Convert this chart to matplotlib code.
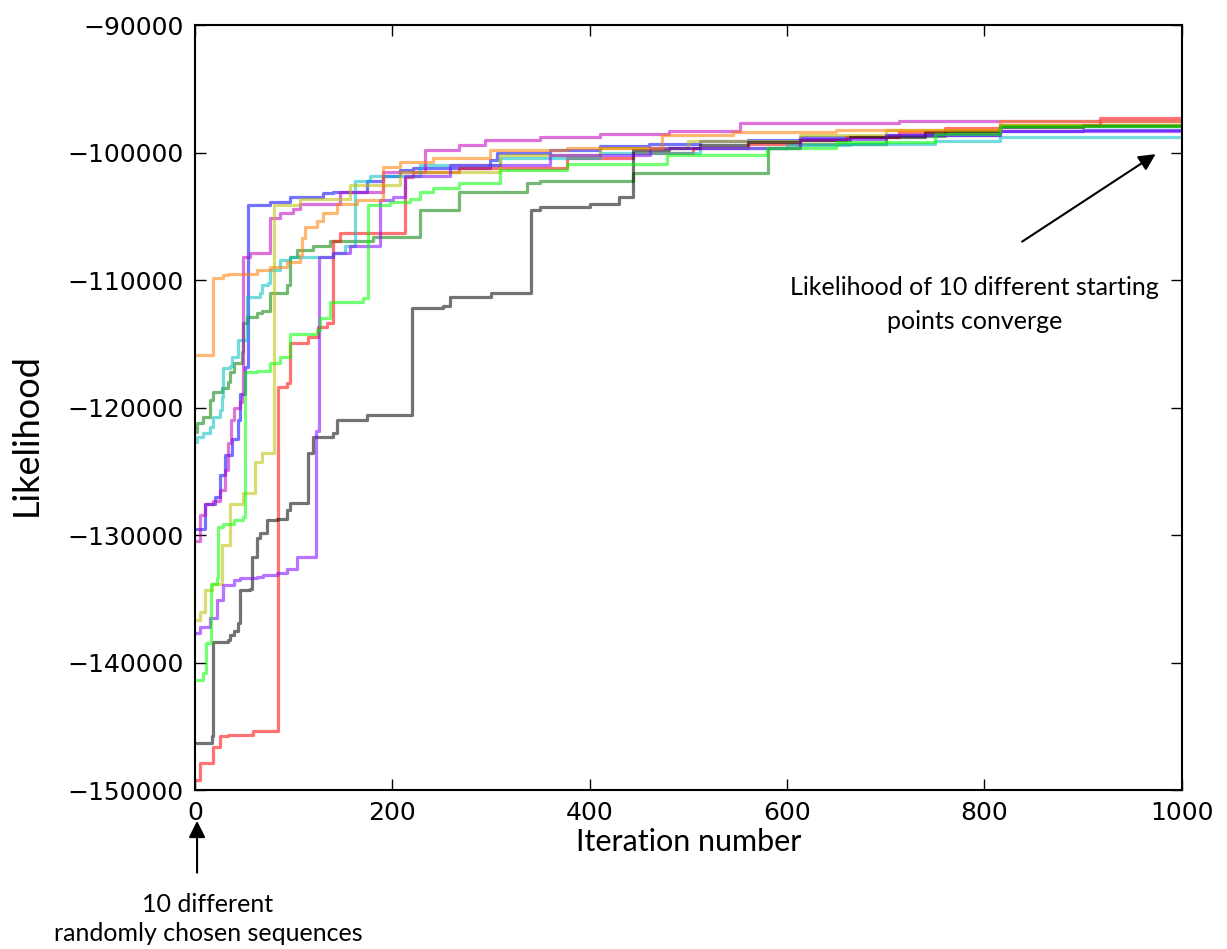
import matplotlib
matplotlib.use("Agg")
import matplotlib.pyplot as plt

# step curves of the likelihood for 10 random starting sequences (iteration, likelihood)
iter_blue = [0, 10, 20, 25, 30, 37, 43, 46, 51, 54, 76, 96, 130, 140, 174, 190, 208, 221, 299, 306, 360, 410, 460,
             512, 560, 613, 700, 816, 900]
like_blue = [-129500, -127600, -127000, -125300, -123700, -122500, -121000, -118900, -116800, -104100, -103900,
             -103500, -103200, -103100, -102200, -101800, -101400, -101200, -100600, -100000, -99800, -99500,
             -99300, -99100, -99000, -98800, -98600, -98300, -98200]

iter_green = [0, 2, 8, 15, 18, 27, 33, 35, 39, 48, 49, 53, 63, 68, 76, 93, 96, 103, 120, 137, 180, 228, 268,
              336, 350, 444, 581, 613, 700, 760, 816, 900]
like_green = [-121900, -121200, -120700, -119400, -118800, -118500, -118000, -117200, -116500, -115600, -113400,
              -112900, -112600, -112400, -111000, -110400, -108200, -107600, -107300, -106900, -106600, -104500,
              -103100, -102400, -102200, -101600, -99600, -99300, -98700, -98300, -97900, -97800]

iter_red = [0, 5, 18, 25, 33, 59, 84, 93, 96, 114, 125, 134, 140, 147, 213, 221, 268, 377, 444, 505, 560, 613,
            660, 714, 760, 816, 917]
like_red = [-149200, -147900, -146600, -145800, -145700, -145400, -118400, -118100, -114900, -114500, -113700,
            -113400, -106900, -106300, -101900, -101500, -101200, -100400, -100000, -99600, -99300, -99000,
            -98800, -98400, -98100, -97800, -97300]

iter_cyan = [0, 2, 8, 15, 18, 25, 27, 28, 35, 37, 43, 53, 66, 68, 74, 76, 86, 96, 140, 152, 162, 177, 228, 309,
             410, 512, 600, 664, 750, 816]
like_cyan = [-122700, -122300, -122000, -121500, -120700, -120200, -119200, -116900, -116700, -116000, -114700,
             -111300, -111000, -110400, -110200, -109200, -108400, -108200, -107900, -107300, -102200, -101800,
             -101000, -100400, -100000, -99600, -99400, -99300, -99100, -98800]

iter_magenta = [0, 5, 10, 18, 25, 30, 33, 36, 39, 46, 48, 49, 56, 76, 86, 99, 106, 147, 190, 233, 268, 294, 350,
                410, 480, 552, 714]
like_magenta = [-130500, -128400, -127600, -127300, -126500, -124900, -122800, -121000, -120000, -119600, -118900,
                -108200, -107900, -105100, -104700, -104400, -104000, -103100, -101500, -99800, -99400, -99000,
                -98800, -98500, -98300, -97700, -97500]

iter_yellow = [0, 5, 10, 17, 27, 35, 49, 61, 68, 80, 106, 157, 208, 309, 410, 500, 613, 700, 816]
like_yellow = [-136700, -136000, -134300, -133800, -130800, -127600, -126700, -124300, -123600, -104100, -103600,
               -102500, -101500, -100200, -99600, -99100, -98600, -98200, -97800]

iter_black = [0, 17, 18, 33, 35, 39, 44, 46, 56, 58, 63, 66, 73, 83, 93, 96, 114, 120, 140, 144, 174, 220, 251,
              258, 300, 341, 350, 400, 430, 444, 480, 512, 560, 613, 664, 740, 816, 900]
like_black = [-146300, -145800, -138400, -138200, -137800, -137500, -136900, -134300, -134200, -131700, -130200,
              -129800, -128800, -128700, -128000, -127500, -123600, -122300, -122000, -121000, -120600, -112200,
              -112000, -111300, -111000, -104500, -104300, -104000, -103500, -99800, -99600, -99400, -99200,
              -99000, -98800, -98400, -98000, -97900]

iter_purple = [0, 5, 15, 22, 28, 39, 46, 63, 69, 83, 93, 103, 123, 126, 140, 157, 187, 201, 213, 258, 360, 461,
               613, 700, 816]
like_purple = [-137700, -137200, -136500, -135100, -133900, -133500, -133400, -133300, -133100, -133000, -132700,
               -131700, -121800, -108200, -107900, -107300, -103700, -103500, -101800, -101000, -100200, -99600,
               -98900, -98600, -98300]

iter_orange = [0, 18, 28, 33, 63, 76, 93, 106, 108, 111, 124, 130, 144, 164, 190, 208, 241, 299, 377, 473, 545,
               650, 816]
like_orange = [-115900, -109800, -109600, -109500, -109200, -109000, -108600, -108000, -106700, -105800, -105400,
               -104700, -104000, -103700, -101100, -100700, -100400, -99800, -99600, -98600, -98400, -98200, -97500]

iter_lime = [0, 8, 11, 16, 22, 23, 28, 39, 49, 51, 63, 76, 86, 96, 124, 127, 137, 170, 175, 198, 218, 228, 241,
             268, 309, 377, 478, 580, 650, 750, 816]
like_lime = [-141400, -140800, -138500, -133800, -133400, -129400, -129100, -128800, -128600, -117200, -117100,
             -116500, -116000, -114200, -113900, -113000, -111700, -111400, -104100, -103900, -103600, -103100,
             -102800, -102400, -101400, -100900, -100200, -99600, -99200, -98500, -97900]

runs = [
    (iter_blue, like_blue, '#0000ff'),
    (iter_green, like_green, '#008000'),
    (iter_red, like_red, '#ff0000'),
    (iter_cyan, like_cyan, '#00bfbf'),
    (iter_magenta, like_magenta, '#bf00bf'),
    (iter_yellow, like_yellow, '#bfbf00'),
    (iter_black, like_black, '#000000'),
    (iter_purple, like_purple, '#7f00ff'),
    (iter_orange, like_orange, '#ff7f00'),
    (iter_lime, like_lime, '#00ff00'),
]

fig = plt.figure(figsize=(12.27, 9.49), dpi=100)
ax = fig.add_axes([0.159, 0.1675, 0.804, 0.806])

for xs, ys, col in runs:
    ax.plot(xs + [1000], ys + [ys[-1]], drawstyle='steps-post', color=col, alpha=0.55, lw=2.3)

ax.set_xlim(0, 1000)
ax.set_ylim(-150000, -90000)
ax.set_xticks(range(0, 1001, 200))
ax.set_yticks(range(-150000, -89999, 10000))
ax.tick_params(direction='in', length=8, width=1, top=True, right=True, labelsize=18, pad=8)
for sp in ax.spines.values():
    sp.set_linewidth(1.5)

ax.set_xlabel('Iteration number', fontsize=22, family='Lato')
ax.set_ylabel('Likelihood', fontsize=26, family='Lato', va='center')
ax.xaxis.set_label_coords(0.5, -0.05)
ax.yaxis.set_label_coords(-0.171, 0.465)

# convergence annotation
ax.annotate('', xy=(976, -100000), xytext=(836, -107100),
            arrowprops=dict(arrowstyle='-|>', color='black', lw=1.5, mutation_scale=25))
ax.text(790, -111900, 'Likelihood of 10 different starting\npoints converge', ha='center', va='center',
        fontsize=18, family='Lato', linespacing=1.55)

# starting-point annotation below the axis
ax.annotate('', xy=(2, -152200), xytext=(2, -156700), annotation_clip=False,
            arrowprops=dict(arrowstyle='-|>', color='black', lw=1.5, mutation_scale=25))
ax.text(13, -160100, '10 different\nrandomly chosen sequences', ha='center', va='center',
        fontsize=18, family='Lato', linespacing=1.3, clip_on=False)

fig.savefig('out.png', dpi=100)
